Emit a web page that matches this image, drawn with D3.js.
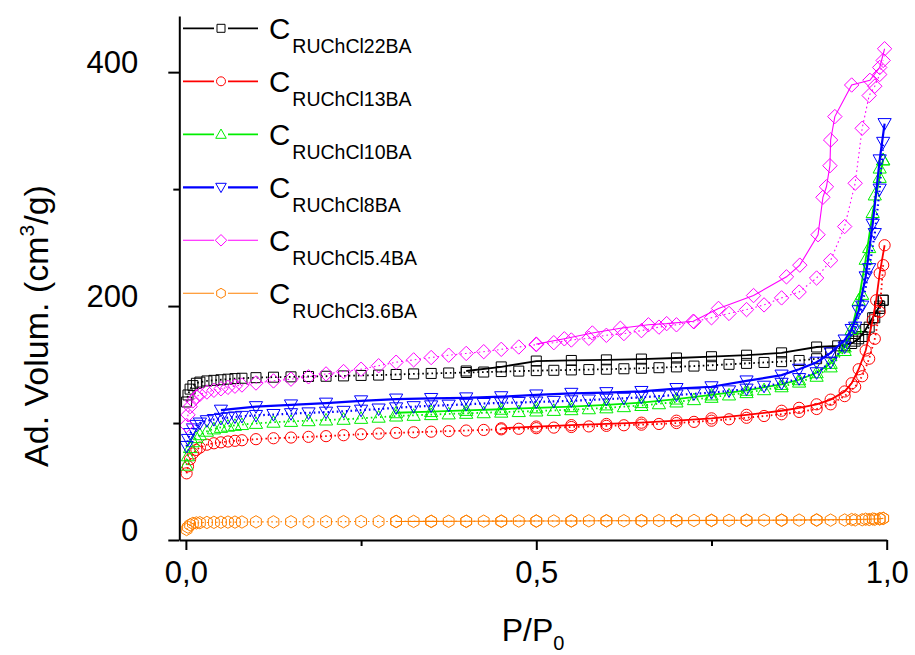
<!DOCTYPE html>
<meta charset="utf-8">
<title>Isotherms</title>
<style>
  body { margin: 0; background: #fff; }
  text { font-family: "Liberation Sans", Arial, sans-serif; fill: #000; }
</style>
<body>
<script src="https://d3js.org/d3.v7.min.js"></script>
<script>

// relative pressure of the adsorption points (same for every sample)
var pAds = [0.001, 0.003, 0.006, 0.01, 0.015, 0.02, 0.03, 0.04, 0.05, 0.06, 0.07, 0.08, 0.1,
  0.125, 0.15, 0.175, 0.2, 0.225, 0.25, 0.275, 0.3, 0.325, 0.35, 0.375, 0.4, 0.425, 0.45, 0.475,
  0.5, 0.525, 0.55, 0.575, 0.6, 0.625, 0.65, 0.675, 0.7, 0.725, 0.75, 0.775, 0.8, 0.825, 0.85,
  0.875, 0.9, 0.92, 0.94, 0.955, 0.965, 0.975, 0.983, 0.99, 0.995];

var vAds22 = [118, 124, 129, 132, 134, 135, 136, 136.5, 137, 137.5, 138, 138.3, 138.8,
  139.2, 139.5, 139.8, 140, 140.3, 140.7, 141, 141.5, 142, 142.4, 142.8, 143.2, 143.6, 144, 144.4,
  144.8, 145.1, 145.4, 145.7, 146, 146.4, 146.8, 147.3, 148, 148.7, 149.4, 150.2, 151, 151.8, 152.5,
  153.5, 155, 160, 166, 170, 174, 182, 190, 198, 205];
var pDes22 = [0.995, 0.99, 0.98, 0.97, 0.96, 0.95, 0.93, 0.9, 0.85, 0.8, 0.75, 0.7, 0.65, 0.6, 0.55, 0.5, 0.45, 0.4];
var vDes22 = [205, 200, 190, 180, 172, 168, 166, 165, 160, 158, 156.7, 155.6, 154.7, 154, 153.5, 153, 148, 144.5];

var vAds13 = [57, 63, 69, 74, 77, 79, 81.5, 82.7, 83.5, 84.2, 84.8, 85.3, 86.2,
  87, 87.6, 88.2, 88.8, 89.6, 90.4, 91, 91.6, 92.1, 92.6, 93.1, 93.6, 94.1, 94.6, 95.1,
  95.6, 96.1, 96.6, 97.1, 97.6, 98.1, 98.6, 99.2, 100, 101, 102, 103.2, 104.5, 106, 107.5,
  109.5, 112, 116, 123, 131, 140, 155, 172, 195, 235];
var pDes13 = [0.997, 0.99, 0.985, 0.98, 0.97, 0.96, 0.95, 0.94, 0.92, 0.9, 0.875, 0.85, 0.8, 0.75, 0.7, 0.65, 0.6, 0.55, 0.5, 0.45];
var vDes13 = [252, 228, 205, 188, 162, 146, 134, 127, 120, 116, 113, 110.5, 107, 104, 102, 100.3, 99.2, 98.2, 97, 95.5];

var vAds10 = [64, 72, 79, 84, 87.5, 90, 93, 95, 96.3, 97.3, 98, 98.7, 99.7,
  100.7, 101.4, 102, 102.6, 103.2, 104, 105, 106, 106.6, 107.2, 107.8, 108.3, 108.8, 109.3, 109.8,
  110.3, 110.8, 111.4, 112.2, 113, 114, 115, 116.5, 118, 120, 122, 124, 126, 128.5, 131,
  135, 140, 148, 162, 182, 210, 250, 295, 318, 325];
var pDes10 = [0.995, 0.99, 0.98, 0.97, 0.96, 0.95, 0.94, 0.92, 0.9, 0.875, 0.85, 0.8, 0.75, 0.7, 0.65, 0.6, 0.55, 0.5, 0.45, 0.4, 0.35, 0.3];
var vDes10 = [325, 310, 280, 240, 205, 180, 165, 151, 143, 137, 133, 128, 124, 120.5, 117.5, 115.5, 114, 113, 111.8, 110.8, 109.8, 108.8];

var vAds8 = [80, 86, 91, 95, 98, 100, 102, 103, 104, 104.6, 105.2, 105.7, 106.5,
  107.3, 108, 108.7, 109.3, 110, 111, 112, 113, 114, 114.7, 115.3, 116, 116.7, 117.2, 117.6,
  118, 118.5, 119, 119.7, 120.4, 121.2, 122, 123, 124, 125, 126, 127.5, 129, 131.5, 134,
  138, 143, 152, 165, 182, 200, 232, 262, 300, 340];
var pDes8 = [0.997, 0.99, 0.98, 0.97, 0.96, 0.95, 0.94, 0.92, 0.9, 0.875, 0.85, 0.8, 0.75, 0.7, 0.65, 0.6,
  0.55, 0.5, 0.45, 0.4, 0.35, 0.3, 0.25, 0.2, 0.15, 0.1, 0.05];
var vDes8 = [356, 325, 270, 225, 196, 180, 171, 160, 152, 146, 141, 136, 131, 129.5, 127, 126,
  125.4, 124, 122.5, 121.5, 121, 120.5, 119, 117, 115.5, 114, 111];

var vAds54 = [98, 107, 114, 119, 122.5, 124.5, 126.5, 128, 129.3, 130.5, 131.5, 132.5, 134.2,
  136, 137.5, 139.5, 142, 144, 146, 149, 152, 154, 156, 158, 159.5, 161, 163, 165,
  167, 168.7, 171, 172.5, 175, 176.5, 179, 182, 184, 186.6, 190, 193.7, 197, 201, 207,
  212, 224, 239, 268, 305, 352, 380, 388, 398, 410];
var pDes54 = [0.997, 0.99, 0.976, 0.95, 0.926, 0.92, 0.919, 0.914, 0.909, 0.902, 0.876, 0.857, 0.81,
  0.76, 0.724, 0.686, 0.66, 0.62, 0.58, 0.54, 0.5];
var vDes54 = [420, 404, 393, 389, 362, 342, 320, 302, 293, 261, 235, 225, 209,
  198, 187, 185, 184, 181, 177, 172, 167.5];

var vAds36 = [9, 11, 13, 14.2, 14.6, 14.8, 15, 15.1, 15.2, 15.3, 15.3, 15.4, 15.5,
  15.5, 15.6, 15.6, 15.7, 15.7, 15.8, 15.8, 15.9, 15.9, 16, 16, 16, 16.1, 16.1, 16.2,
  16.2, 16.3, 16.3, 16.4, 16.4, 16.5, 16.5, 16.6, 16.6, 16.7, 16.7, 16.8, 16.8, 16.9, 16.9,
  17, 17, 17, 17.1, 17.2, 17.3, 17.5, 17.7, 18, 18.5];
var pDes36 = [0.995, 0.99, 0.98, 0.97, 0.95, 0.9, 0.85, 0.8, 0.75, 0.7, 0.65, 0.6, 0.55, 0.5, 0.45, 0.4, 0.35, 0.3];
var vDes36 = [18.5, 18.2, 18, 17.8, 17.5, 17.2, 17, 16.9, 16.8, 16.6, 16.5, 16.4, 16.3, 16.2, 16.1, 16, 15.9, 15.8];

var names = ["RUChCl22BA", "RUChCl13BA", "RUChCl10BA", "RUChCl8BA", "RUChCl5.4BA", "RUChCl3.6BA"];
var colors = ["#000000", "#ff0000", "#00ee00", "#0000ff", "#ff00ff", "#ff8000"];
var shapes = ["square", "circle", "triangle", "triangleDown", "diamond", "hexagon"];
var lineWidths = [1.8, 1.8, 1.8, 2.2, 1.1, 1.1];

var xTicks = [0, 0.5, 1], xMinor = [0.25, 0.75];
var yTicks = [0, 200, 400], yMinor = [100, 300];

var series = [
  { ads: vAds22, pd: pDes22, vd: vDes22 },
  { ads: vAds13, pd: pDes13, vd: vDes13 },
  { ads: vAds10, pd: pDes10, vd: vDes10 },
  { ads: vAds8, pd: pDes8, vd: vDes8 },
  { ads: vAds54, pd: pDes54, vd: vDes54 },
  { ads: vAds36, pd: pDes36, vd: vDes36 }
].map(function (s, i) {
  return {
    name: names[i], color: colors[i], shape: shapes[i], lw: lineWidths[i],
    ads: pAds.map(function (p, j) { return [p, s.ads[j]]; }),
    des: s.pd.map(function (p, j) { return [p, s.vd[j]]; })
  };
});

var width = 915, height = 655;
// plot box (note: "top" is taken by window.top, so prefix everything)
var plotLeft = 179.3, plotRight = 886.7, plotTop = 16, plotBottom = 540;

var x = d3.scaleLinear().domain([-0.0094, 1]).range([plotLeft, plotRight]);
var y = d3.scaleLinear().domain([0, 448]).range([plotBottom, plotTop]);

var svg = d3.select("body").append("svg")
  .attr("width", width)
  .attr("height", height);

// marker outlines, centred on 0,0
function shapePath(type, k) {
  k = k || 1;
  var pts;
  if (type === "circle") {
    var r = 5.6 * k;
    return "M" + r + ",0A" + r + "," + r + " 0 1,1 " + (-r) + ",0A" + r + "," + r + " 0 1,1 " + r + ",0Z";
  }
  if (type === "square") { var h = 5 * k; pts = [[-h, -h], [h, -h], [h, h], [-h, h]]; }
  if (type === "triangle") pts = [[0, -6.6 * k], [6.6 * k, 5 * k], [-6.6 * k, 5 * k]];
  if (type === "triangleDown") pts = [[0, 6.6 * k], [6.6 * k, -5 * k], [-6.6 * k, -5 * k]];
  if (type === "diamond") { var d = 7.2 * k; pts = [[0, -d], [d, 0], [0, d], [-d, 0]]; }
  if (type === "hexagon") {
    pts = d3.range(6).map(function (i) {
      var a = -Math.PI / 2 + i * Math.PI / 3;
      return [6.2 * k * Math.cos(a), 6.2 * k * Math.sin(a)];
    });
  }
  return "M" + pts.map(function (p) { return p[0].toFixed(2) + "," + p[1].toFixed(2); }).join("L") + "Z";
}

var line = d3.line()
  .x(function (d) { return x(d[0]); })
  .y(function (d) { return y(d[1]); });

// curves
var plot = svg.append("g");
series.forEach(function (s) {
  var g = plot.append("g");
  g.append("path")
    .attr("d", line(s.ads))
    .attr("fill", "none")
    .attr("stroke", s.color)
    .attr("stroke-width", s.lw)
    .attr("stroke-dasharray", "1.6,3");
  g.append("path")
    .attr("d", line(s.des))
    .attr("fill", "none")
    .attr("stroke", s.color)
    .attr("stroke-width", s.lw);
  g.selectAll("path.mk")
    .data(s.ads.concat(s.des))
    .enter().append("path")
    .attr("class", "mk")
    .attr("d", shapePath(s.shape))
    .attr("transform", function (d) { return "translate(" + x(d[0]) + "," + y(d[1]) + ")"; })
    .attr("fill", "none")
    .attr("stroke", s.color)
    .attr("stroke-width", 1);
});

// axes
var fmt = function (d) { return d3.format(".1f")(d).replace(".", ","); };

var xAxis = svg.append("g")
  .attr("transform", "translate(0," + plotBottom + ")")
  .call(d3.axisBottom(x).tickValues(xTicks).tickSize(10).tickSizeOuter(0).tickFormat(fmt));
xAxis.append("g")
  .call(d3.axisBottom(x).tickValues(xMinor).tickSize(6).tickSizeOuter(0).tickFormat(""))
  .select(".domain").remove();
xAxis.selectAll(".tick text")
  .attr("y", 43).attr("dy", 0)
  .style("font-size", "31px");

var yAxis = svg.append("g")
  .attr("transform", "translate(" + plotLeft + ",0)")
  .call(d3.axisLeft(y).tickValues(yTicks).tickSize(11).tickSizeOuter(0));
yAxis.append("g")
  .call(d3.axisLeft(y).tickValues(yMinor).tickSize(6).tickSizeOuter(0).tickFormat(""))
  .select(".domain").remove();
yAxis.selectAll(".tick text")
  .attr("x", -41).attr("dy", 0)
  .style("font-size", "31px");

svg.selectAll(".domain, .tick line")
  .attr("stroke", "#000")
  .attr("stroke-width", 2);
svg.selectAll(".tick text").attr("font-family", null);

// axis titles
var yTitle = svg.append("text")
  .attr("transform", "translate(48,326) rotate(-90)")
  .attr("text-anchor", "middle")
  .style("font-size", "34px");
yTitle.append("tspan").text("Ad. Volum. (cm");
yTitle.append("tspan").text("3").attr("dy", -14).style("font-size", "21px");
yTitle.append("tspan").text("/g)").attr("dy", 14);

var xTitle = svg.append("text")
  .attr("x", 533)
  .attr("y", 641)
  .attr("text-anchor", "middle")
  .style("font-size", "32px");
xTitle.append("tspan").text("P/P");
xTitle.append("tspan").text("0").attr("dy", 9).style("font-size", "20px");

// legend
var legend = svg.append("g");
series.forEach(function (s, i) {
  var ly = 28.3 + i * 53;
  legend.append("line")
    .attr("x1", 183).attr("x2", 258)
    .attr("y1", ly).attr("y2", ly)
    .attr("stroke", s.color)
    .attr("stroke-width", s.lw);
  legend.append("rect")
    .attr("x", 214).attr("y", ly - 7).attr("width", 14).attr("height", 14)
    .attr("fill", "#fff");
  legend.append("path")
    .attr("d", shapePath(s.shape, 0.8))
    .attr("transform", "translate(221," + ly + ")")
    .attr("fill", "none")
    .attr("stroke", s.color)
    .attr("stroke-width", 1);
  var t = legend.append("text")
    .attr("x", 269)
    .attr("y", ly + 11)
    .style("font-size", "29.5px");
  t.append("tspan").text("C");
  t.append("tspan").text(s.name).attr("dx", 2).attr("dy", 14).style("font-size", "19.5px");
});

</script>
</body>
</html>
